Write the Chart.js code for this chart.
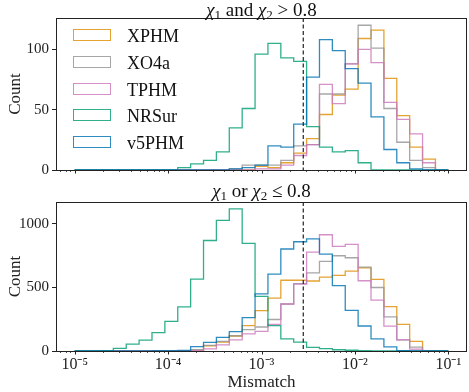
<!DOCTYPE html>
<html>
<head>
<meta charset="utf-8">
<script src="https://cdn.jsdelivr.net/npm/chart.js@4.4.0/dist/chart.umd.min.js"></script>
<style>
    body { margin: 0; background: #fff; width: 469px; height: 392px; overflow: hidden; position: relative; font-family: "Liberation Serif", serif; color: #111; }
    .wrap { position: absolute; left: 0; width: 469px; }
    #topWrap { top: 0; height: 190px; }
    #botWrap { top: 190px; height: 202px; }
    .title { position: absolute; left: 56px; width: 411px; text-align: center; font-size: 19px; line-height: 1; white-space: nowrap; }
    .title i { font-style: italic; }
    .title sub { font-size: 13px; vertical-align: -3px; line-height: 0; }
    #legend { position: absolute; left: 73px; top: 28px; font-size: 18px; }
    .item { height: 26.8px; display: flex; align-items: flex-start; }
    .box { width: 38px; height: 12px; border: 1.3px solid; box-sizing: border-box; margin-top: 1px; margin-right: 16px; }
    .lbl { line-height: 1; margin-top: -1px; }
</style>
</head>
<body>
<div class="wrap" id="topWrap"><canvas id="topChart" width="469" height="190"></canvas></div>
<div class="wrap" id="botWrap"><canvas id="botChart" width="469" height="202"></canvas></div>
<div class="title" style="top:0px"><i>χ</i><sub>1</sub> and <i>χ</i><sub>2</sub> &gt; 0.8</div>
<div class="title" style="top:181px"><i>χ</i><sub>1</sub> or <i>χ</i><sub>2</sub> ≤ 0.8</div>
<div id="legend"></div>

<script>
// Mismatch histograms, 29 log bins from 1e-5 to 1e-1

const BIN_LOG_MIN = -5;
const BIN_LOG_MAX = -1;
const N_BINS = 29;
const X_LOG_RANGE = [-5.2, -0.8];
const THRESHOLD = 0.0028;

const seriesNames = ['XPHM', 'XO4a', 'TPHM', 'NRSur', 'v5PHM'];
const seriesColors = ['rgba(222,143,5,0.82)', 'rgba(148,148,148,0.82)', 'rgba(204,120,188,0.82)', 'rgba(2,158,115,0.82)', 'rgba(1,115,178,0.82)'];

// chi1 and chi2 > 0.8
const xphmHigh  = [0,0,0,0,0,0,0,0,0,0,0,0,0,3,2,6,14,26,46,62,67,109,116,76,45,19,9,0,0];
const xo4aHigh  = [0,0,0,0,0,0,0,0,0,0,0,1,4,4,4,8,20,21,63,63,88,120,101,51,23,8,2,0,0];
const tphmHigh  = [0,0,0,0,0,0,0,0,0,0,0,0,0,1,1,4,12,21,71,55,88,100,89,56,42,30,6,0,0];
const nrsurHigh = [0,0,0,0,0,0,0,2,5,8,15,35,51,96,105,93,90,36,19,15,16,6,0,0,0,0,0,0,0];
const v5phmHigh = [0,0,0,0,0,0,0,0,0,0,0,1,2,4,20,19,38,77,108,99,84,72,44,17,6,1,0,0,0];

// chi1 or chi2 <= 0.8
const xphmLow  = [0,0,0,0,0,0,0,0,5,41,70,118,200,318,417,557,557,551,582,595,629,655,564,349,210,76,2,0,0];
const xo4aLow  = [0,0,0,0,0,0,0,2,10,45,75,120,168,189,248,370,530,615,705,750,734,661,500,268,88,30,3,0,0];
const tphmLow  = [0,0,0,0,0,0,0,0,3,16,49,88,135,155,210,370,527,778,915,824,840,553,400,196,87,15,2,0,0];
const nrsurLow = [1,3,21,54,85,145,233,347,566,870,1028,1119,848,430,200,95,70,28,18,10,6,3,1,0,0,0,0,0,0];
const v5phmLow = [0,0,0,0,1,2,3,5,35,68,108,152,262,450,605,803,860,883,762,514,320,197,96,32,2,0,0,0,0];

const yTicksHigh = [0, 50, 100];
const yTicksLow = [0, 500, 1000];
const yMaxHigh = 126;
const yMaxLow = 1173;
const xTickValues = [1e-5, 1e-4, 1e-3, 1e-2, 1e-1];
const xTickLabels = ['10⁻⁵', '10⁻⁴', '10⁻³', '10⁻²', '10⁻¹'];

const binEdges = [];
for (let k = 0; k <= N_BINS; k++) {
    binEdges.push(Math.pow(10, BIN_LOG_MIN + (BIN_LOG_MAX - BIN_LOG_MIN) * k / N_BINS));
}

// outline of a step histogram
function stepPoints(counts) {
    const pts = [{ x: binEdges[0], y: 0 }];
    counts.forEach((c, i) => pts.push({ x: binEdges[i + 1], y: c }));
    pts.push({ x: binEdges[N_BINS], y: 0 });
    return pts;
}

function minorTicks() {
    const ticks = [];
    const lo = Math.pow(10, X_LOG_RANGE[0]);
    const hi = Math.pow(10, X_LOG_RANGE[1]);
    for (let e = -6; e <= 0; e++) {
        for (let m = 1; m <= 9; m++) {
            const v = m * Math.pow(10, e);
            if (v >= lo && v <= hi) ticks.push({ value: v, major: m === 1 });
        }
    }
    return ticks;
}

const framePlugin = {
    id: 'frame',
    afterDatasetsDraw(chart) {
        const { ctx, chartArea: a } = chart;
        const xs = chart.scales.x;
        ctx.save();
        // threshold
        const tx = xs.getPixelForValue(THRESHOLD);
        ctx.strokeStyle = '#222';
        ctx.lineWidth = 1.2;
        ctx.setLineDash([4, 2.5]);
        ctx.beginPath();
        ctx.moveTo(tx, a.top);
        ctx.lineTo(tx, a.bottom);
        ctx.stroke();
        ctx.setLineDash([]);
        // box
        ctx.strokeStyle = '#222';
        ctx.lineWidth = 1;
        ctx.strokeRect(a.left + 0.5, a.top + 0.5, a.right - a.left - 1, a.bottom - a.top);
        // x ticks, major and minor
        xs.ticks.forEach(t => {
            const px = Math.round(xs.getPixelForValue(t.value)) + 0.5;
            ctx.beginPath();
            ctx.lineWidth = t.major ? 1 : 0.8;
            ctx.moveTo(px, a.bottom);
            ctx.lineTo(px, a.bottom + (t.major ? 3.5 : 2));
            ctx.stroke();
        });
        ctx.restore();
    }
};

function makeChart(canvasId, counts, yTicks, yMax, showX, padTop, xHeight) {
    const datasets = counts.map((c, i) => ({
        label: seriesNames[i],
        data: stepPoints(c),
        stepped: 'before',
        borderColor: seriesColors[i],
        borderWidth: 1.3,
        pointRadius: 0,
        fill: false,
        order: counts.length - i
    }));

    return new Chart(document.getElementById(canvasId), {
        type: 'line',
        data: { datasets },
        options: {
            responsive: false,
            animation: false,
            events: [],
            layout: { padding: { top: padTop, right: 2, left: 0, bottom: 0 } },
            plugins: { legend: { display: false }, tooltip: { enabled: false } },
            scales: {
                x: {
                    type: 'logarithmic',
                    min: Math.pow(10, X_LOG_RANGE[0]),
                    max: Math.pow(10, X_LOG_RANGE[1]),
                    grid: { display: false },
                    border: { display: false },
                    afterBuildTicks: s => { s.ticks = minorTicks(); },
                    afterFit: s => { s.height = xHeight; },
                    ticks: {
                        autoSkip: false,
                        maxRotation: 0,
                        padding: -4,
                        color: '#222',
                        font: { family: 'Liberation Serif', size: 16 },
                        callback: v => {
                            if (!showX) return '';
                            const i = xTickValues.findIndex(t => Math.abs(t - v) / t < 1e-6);
                            return i >= 0 ? xTickLabels[i] : '';
                        }
                    },
                    title: {
                        display: showX,
                        text: 'Mismatch',
                        color: '#222',
                        padding: { top: 0, bottom: -1 },
                        font: { family: 'Liberation Serif', size: 17 }
                    }
                },
                y: {
                    min: 0,
                    max: yMax,
                    grid: { drawOnChartArea: false, drawTicks: true, tickLength: 4, color: '#222' },
                    border: { display: false },
                    afterBuildTicks: s => { s.ticks = yTicks.map(v => ({ value: v })); },
                    afterFit: s => { s.width = 56; },
                    ticks: {
                        padding: 3,
                        color: '#222',
                        font: { family: 'Liberation Serif', size: 15 },
                        callback: v => String(v)
                    },
                    title: {
                        display: true,
                        text: 'Count',
                        color: '#222',
                        padding: { top: 5, bottom: 0 },
                        font: { family: 'Liberation Serif', size: 17 }
                    }
                }
            }
        },
        plugins: [framePlugin]
    });
}

makeChart('topChart', [xphmHigh, xo4aHigh, tphmHigh, nrsurHigh, v5phmHigh], yTicksHigh, yMaxHigh, false, 18, 20);
makeChart('botChart', [xphmLow, xo4aLow, tphmLow, nrsurLow, v5phmLow], yTicksLow, yMaxLow, true, 10, 41);

const legend = document.getElementById('legend');
seriesNames.forEach((name, i) => {
    const row = document.createElement('div');
    row.className = 'item';
    row.innerHTML = `<span class="box" style="border-color:${seriesColors[i]}"></span><span class="lbl">${name}</span>`;
    legend.appendChild(row);
});
</script>
</body>
</html>
